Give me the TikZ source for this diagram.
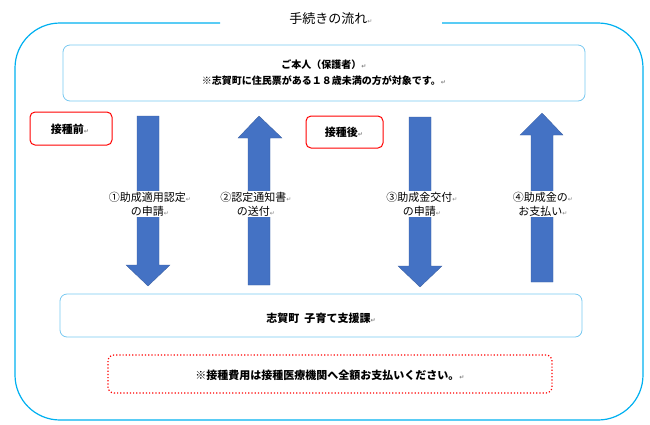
\documentclass[tikz,border=0pt]{standalone}
\usepackage{fontspec}
\setmainfont{Noto Sans CJK JP}
\newfontfamily\djv{DejaVu Sans}
\definecolor{sky}{RGB}{0,176,240}
\definecolor{lsky}{RGB}{120,200,240}
\definecolor{ablue}{RGB}{68,114,196}
\newcommand{\pmk}{{\color{gray}\djv\fontsize{6}{6}\selectfont ↵}}
\begin{document}
\begin{tikzpicture}[x=1pt,y=-1pt,
  bx/.style={draw=lsky,line width=0.8pt,rounded corners=7pt},
  redbox/.style={draw=red,line width=1pt,rounded corners=5pt},
  arr/.style={fill=ablue,draw=ablue!80!black,line width=0.3pt},
  lbl/.style={fill=white,align=center,font=\fontsize{11}{14}\selectfont,inner sep=1pt}]
\useasboundingbox (0,0) rectangle (650,424);
% outer frame with gap
\draw[sky,line width=1.2pt,rounded corners=45pt] (220,23) -- (15,23) -- (15,420) -- (643,420) -- (643,23) -- (442,23);
\node (title) at (331,19) {\fontsize{13}{14}\selectfont 手続きの流れ\pmk};
% boxes
\draw[bx] (63,45) rectangle (585,101);
\node (top) at (324,73) [align=center,font=\bfseries\fontsize{10}{16}\selectfont] {ご本人（保護者）\pmk\\ ※志賀町に住民票がある１８歳未満の方が対象です。\pmk};
\draw[bx] (60,294) rectangle (582,337);
\node (bot) at (321,318) {\bfseries\fontsize{11}{12}\selectfont 志賀町\ \ 子育て支援課\pmk};
\draw[red,line width=1.2pt,dotted,rounded corners=6pt] (108,355) rectangle (552,393);
\node (note) at (330,375) {\bfseries\fontsize{11}{12}\selectfont ※接種費用は接種医療機関へ全額お支払いください。\pmk};
\draw[redbox] (30,112) rectangle (112,145);
\node (pre) at (70,129) {\bfseries\fontsize{11}{12}\selectfont 接種前\pmk};
\draw[redbox] (306,116) rectangle (383,148);
\node (post) at (344,132) {\bfseries\fontsize{11}{12}\selectfont 接種後\pmk};
% arrows
\draw[arr] (137,116) -- (159,116) -- (159,265) -- (170,265) -- (148,286) -- (126,265) -- (137,265) -- cycle;
\draw[arr] (409,117) -- (431,117) -- (431,266) -- (442,266) -- (420,287) -- (398,266) -- (409,266) -- cycle;
\draw[arr] (248,285) -- (270,285) -- (270,138) -- (282,138) -- (259,116) -- (238,138) -- (248,138) -- cycle;
\draw[arr] (531,282) -- (553,282) -- (553,135) -- (563,135) -- (542,113) -- (520,135) -- (531,135) -- cycle;
% labels
\node[lbl] (l1) at (150,204) {①助成適用認定\pmk\\の申請\pmk};
\node[lbl] (l2) at (256,204) {②認定通知書\pmk\\の送付\pmk};
\node[lbl] (l3) at (422,204) {③助成金交付\pmk\\の申請\pmk};
\node[lbl] (l4) at (543,204) {④助成金の\pmk\\お支払い\pmk};
\end{tikzpicture}
\end{document}
